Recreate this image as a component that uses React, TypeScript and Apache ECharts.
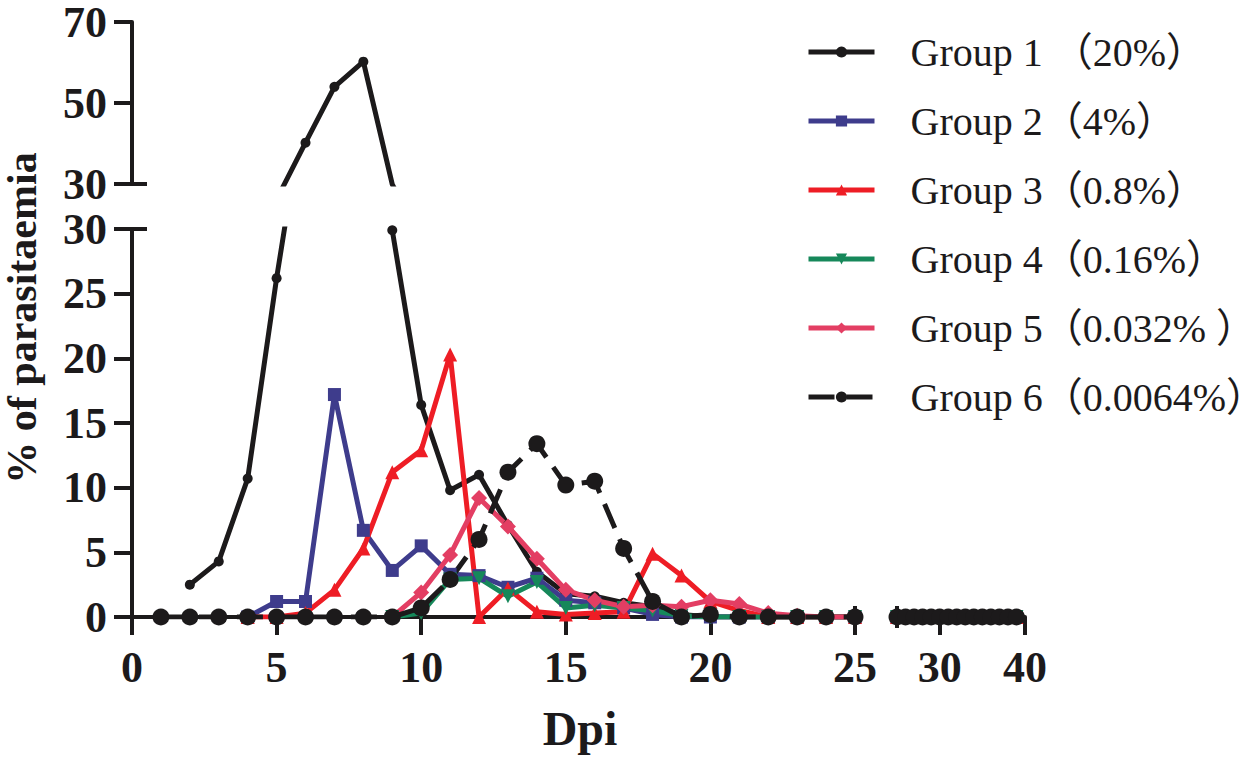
import React, { useEffect, useRef } from "react";
import * as echarts from "echarts";

const DAYS = [0, 1, 2, 3, 4, 5, 6, 7, 8, 9, 10, 11, 12, 13, 14, 15, 16, 17, 18, 19, 20, 21, 22, 23, 24, 25];
const LATE_DAYS = [25, 26, 27, 28, 29, 30, 31, 32, 33, 34, 35, 36, 37, 38, 39];

const GROUP1 = [null, null, 2.5, 4.3, 10.7, 26.2, 40.2, 54.0, 60.2, 29.9, 16.4, 9.8, 11.0, 7.1, 3.5, 1.8, 1.6, 1.1, 0.8, 0.2, 0, 0, 0, 0, 0, 0];
const GROUP2 = [null, null, null, null, 0, 1.2, 1.2, 17.2, 6.7, 3.6, 5.5, 3.3, 3.2, 2.3, 3.0, 1.3, 1.1, 0.7, 0.2, 0, 0, 0, 0, 0, 0, 0];
const GROUP3 = [null, null, null, null, 0, 0, 0.3, 2.1, 5.3, 11.2, 12.9, 20.3, 0, 2.2, 0.4, 0.2, 0.3, 0.4, 4.9, 3.2, 1.2, 0.5, 0, 0, 0, 0];
const GROUP4 = [null, null, null, null, null, null, null, null, null, 0, 0.3, 2.9, 3.0, 1.6, 2.7, 0.7, 0.9, 0.7, 0.5, 0.1, 0, 0, 0, 0, 0, 0];
const GROUP5 = [null, null, null, null, null, null, null, null, null, 0, 1.9, 4.8, 9.2, 7.0, 4.5, 2.1, 1.3, 0.8, 0.9, 0.8, 1.3, 1.0, 0.3, 0.1, 0, 0];
const GROUP6 = [null, 0, 0, 0, 0, 0, 0, 0, 0, 0, 0.7, 2.9, 6.0, 11.2, 13.4, 10.2, 10.5, 5.3, 1.2, 0, 0.2, 0, 0, 0, 0, 0];
const LATE_VALUES = [0, 0, 0, 0, 0, 0, 0, 0, 0, 0, 0, 0, 0, 0, 0];

const NAMES = [
  "Group 1 （20%）",
  "Group 2（4%）",
  "Group 3（0.8%）",
  "Group 4（0.16%）",
  "Group 5（0.032% ）",
  "Group 6（0.0064%）",
];

const Y_UPPER_TICKS = [30, 50, 70];
const X_LATE_TICKS = [30, 40];

const FONT = "'Liberation Serif', 'Times New Roman', 'Noto Sans CJK SC', serif";

export default function App() {
  const ref = useRef<HTMLDivElement>(null);

  useEffect(() => {
    document.body.style.margin = "0";
    if (!ref.current) return;
    const chart = echarts.init(ref.current, null, { renderer: "svg" });

    const styles = [
      { color: "#1c1a1b", symbol: "circle", size: 10, rotate: 0, dash: "solid" as any, width: 5 },
      { color: "#3e3c8c", symbol: "rect", size: 13, rotate: 0, dash: "solid" as any, width: 5 },
      { color: "#ee1d25", symbol: "triangle", size: 14, rotate: 0, dash: "solid" as any, width: 5 },
      { color: "#16885a", symbol: "triangle", size: 14, rotate: 180, dash: "solid" as any, width: 5 },
      { color: "#e33e63", symbol: "diamond", size: 16, rotate: 0, dash: "solid" as any, width: 5 },
      { color: "#1c1a1b", symbol: "circle", size: 17, rotate: 0, dash: [26, 12] as any, width: 5 },
    ];
    const groups = [GROUP1, GROUP2, GROUP3, GROUP4, GROUP5, GROUP6];

    const series: any[] = [];
    groups.forEach((vals, gi) => {
      const s = styles[gi];
      const common = {
        type: "line",
        name: NAMES[gi],
        symbol: s.symbol,
        symbolSize: s.size,
        symbolRotate: s.rotate,
        clip: true,
        itemStyle: { color: s.color },
        lineStyle: { color: s.color, width: s.width, type: s.dash },
        emphasis: { disabled: true },
      };
      series.push({
        ...common,
        xAxisIndex: 1,
        yAxisIndex: 1,
        data: DAYS.map((d, i) => [d, vals[i]]),
      });
      series.push({
        ...common,
        xAxisIndex: 2,
        yAxisIndex: 2,
        data: LATE_DAYS.map((d, i) => [d, LATE_VALUES[i]]),
      });
      if (gi === 0) {
        series.push({
          ...common,
          xAxisIndex: 0,
          yAxisIndex: 0,
          data: DAYS.map((d, i) => [d, vals[i]]),
        });
      }
    });

    const axisLine = { show: true, onZero: false, lineStyle: { color: "#1c1a1b", width: 4 } };
    const axisTick = { show: true, length: 18, lineStyle: { color: "#1c1a1b", width: 4 } };
    const labelStyle = { color: "#1c1a1b", fontFamily: FONT, fontWeight: "bold" as any, fontSize: 44, lineHeight: 32 };

    const option: any = {
      animation: false,
      grid: [
        { left: 132, top: 16, width: 723, height: 168 },
        { left: 132, top: 229, width: 723, height: 388 },
        { left: 897, top: 229, width: 128, height: 388 },
      ],
      xAxis: [
        { gridIndex: 0, type: "value", min: 0, max: 25, show: false },
        {
          gridIndex: 1, type: "value", min: 0, max: 25, interval: 5,
          axisLine, axisTick, splitLine: { show: false },
          axisLabel: { ...labelStyle, margin: 34 },
        },
        {
          gridIndex: 2, type: "value", min: 25, max: 40, interval: 5,
          axisLine, axisTick: { ...axisTick, customValues: X_LATE_TICKS }, splitLine: { show: false },
          axisLabel: { ...labelStyle, margin: 34, customValues: X_LATE_TICKS },
        },
      ],
      yAxis: [
        {
          gridIndex: 0, type: "value", min: 30, max: 70, interval: 10,
          axisLine, axisTick: { ...axisTick, customValues: Y_UPPER_TICKS }, splitLine: { show: false },
          axisLabel: { ...labelStyle, margin: 25, customValues: Y_UPPER_TICKS },
        },
        {
          gridIndex: 1, type: "value", min: 0, max: 30, interval: 5,
          axisLine, axisTick, splitLine: { show: false },
          axisLabel: { ...labelStyle, margin: 25 },
        },
        { gridIndex: 2, type: "value", min: 0, max: 30, show: false },
      ],
      legend: {
        orient: "vertical",
        left: 806,
        top: 32,
        padding: 0,
        itemWidth: 66,
        itemHeight: 14,
        itemGap: 29,
        data: NAMES,
        selectedMode: false,
        lineStyle: { width: 5 },
        textStyle: {
          fontFamily: FONT,
          fontSize: 40,
          lineHeight: 40,
          color: "#1c1a1b",
          padding: [0, 0, 0, 31],
        },
      },
      graphic: [
        { type: "line", shape: { x1: 131, y1: 184, x2: 147, y2: 184 }, style: { stroke: "#1c1a1b", lineWidth: 4 } },
        { type: "line", shape: { x1: 131, y1: 229, x2: 147, y2: 229 }, style: { stroke: "#1c1a1b", lineWidth: 4 } },
        { type: "line", shape: { x1: 855, y1: 606, x2: 855, y2: 628 }, style: { stroke: "#1c1a1b", lineWidth: 4 } },
        { type: "line", shape: { x1: 897, y1: 606, x2: 897, y2: 628 }, style: { stroke: "#1c1a1b", lineWidth: 4 } },
        {
          type: "text", x: 22, y: 318, rotation: Math.PI / 2,
          style: {
            text: "% of parasitaemia", fill: "#1c1a1b",
            font: `bold 42px ${FONT}`, align: "center", verticalAlign: "middle",
          },
        },
        {
          type: "text", x: 580, y: 728,
          style: {
            text: "Dpi", fill: "#1c1a1b",
            font: `bold 48px ${FONT}`, align: "center", verticalAlign: "middle",
          },
        },
      ],
      series,
    };

    chart.setOption(option);
    return () => chart.dispose();
  }, []);

  return <div ref={ref} style={{ width: 1249, height: 758 }} />;
}
